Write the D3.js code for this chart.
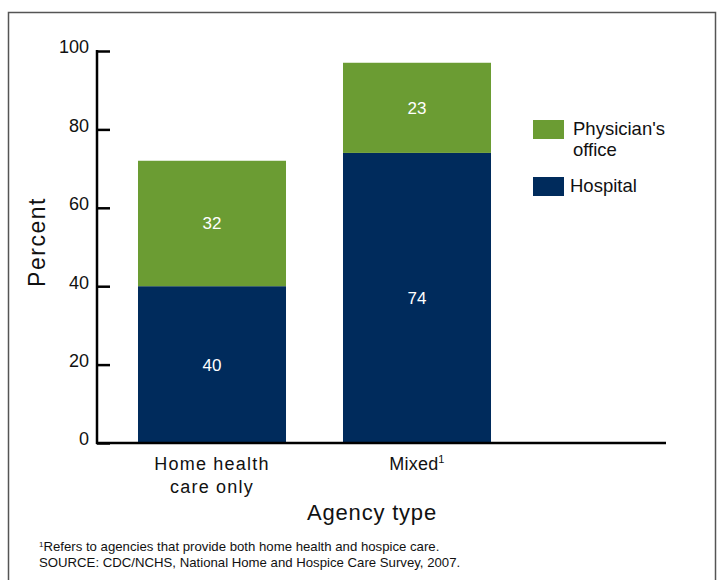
<!DOCTYPE html>
<html>
<head>
<meta charset="utf-8">
<script src="https://cdn.jsdelivr.net/npm/d3@7"></script>
<style>
  body { margin: 0; background: #fff; }
  text { font-family: Arial, "Liberation Sans", sans-serif; }
</style>
</head>
<body>
<div id="chart"></div>
<script>
// data
let categories = ['Home health care only', 'Mixed'];
let hospital = [40, 74];
let physician = [32, 23];
let yTicks = [0, 20, 40, 60, 80, 100];

let width = 718;
let height = 580;
let green = '#6b9c33';
let navy = '#002b5c';

let svg = d3.select('#chart')
    .append('svg')
    .attr('width', width)
    .attr('height', height);

// frame
svg.append('rect')
    .attr('x', 8.5).attr('y', 12.5)
    .attr('width', 707).attr('height', 600)
    .attr('fill', 'none')
    .attr('stroke', '#555')
    .attr('stroke-width', 1.5);

let x = d3.scaleBand()
    .domain(categories)
    .range([109.5, 519.5])
    .paddingInner(0.278)
    .paddingOuter(0.139);

let y = d3.scaleLinear()
    .domain([0, 100])
    .range([443, 51]);

let rows = categories.map((c, i) => ({ cat: c, hospital: hospital[i], physician: physician[i] }));
let stack = d3.stack().keys(['hospital', 'physician'])(rows);
let color = { hospital: navy, physician: green };

let layers = svg.selectAll('.layer')
    .data(stack)
    .enter().append('g')
    .attr('class', 'layer')
    .attr('fill', d => color[d.key]);

layers.selectAll('rect')
    .data(d => d)
    .enter().append('rect')
    .attr('x', d => x(d.data.cat))
    .attr('y', d => y(d[1]))
    .attr('width', x.bandwidth())
    .attr('height', d => y(d[0]) - y(d[1]));

// value labels
layers.selectAll('text')
    .data(d => d.map(v => Object.assign(v, { key: d.key })))
    .enter().append('text')
    .attr('x', d => x(d.data.cat) + x.bandwidth() / 2)
    .attr('y', d => (y(d[0]) + y(d[1])) / 2 + 6)
    .attr('text-anchor', 'middle')
    .attr('fill', 'white')
    .style('font-size', '17px')
    .text(d => d.data[d.key]);

// y axis
let yAxis = svg.append('g')
    .attr('transform', 'translate(97,0)')
    .call(d3.axisRight(y).tickValues(yTicks).tickSize(13).tickFormat(d3.format('d')));
yAxis.select('.domain').remove();
yAxis.selectAll('.tick line').attr('stroke', '#000').attr('stroke-width', 2.5);
yAxis.selectAll('.tick text')
    .attr('x', -8)
    .attr('dy', '0.1em')
    .attr('text-anchor', 'end')
    .style('font-size', '18px')
    .attr('fill', '#111');

svg.append('line')
    .attr('x1', 97).attr('x2', 97)
    .attr('y1', 50).attr('y2', 444)
    .attr('stroke', '#000').attr('stroke-width', 2.5);
svg.append('line')
    .attr('x1', 96).attr('x2', 666)
    .attr('y1', 443).attr('y2', 443)
    .attr('stroke', '#000').attr('stroke-width', 2.5);

// category labels
let catLabels = [['Home health', 'care only'], ['Mixed']];
categories.forEach((c, i) => {
    let t = svg.append('text')
        .attr('x', x(c) + x.bandwidth() / 2)
        .attr('y', 470)
        .attr('text-anchor', 'middle')
        .style('font-size', '18px')
        .style('letter-spacing', i == 0 ? '1.2px' : '0.2px')
        .attr('fill', '#111');
    catLabels[i].forEach((line, j) => {
        t.append('tspan')
            .attr('x', x(c) + x.bandwidth() / 2)
            .attr('dy', j == 0 ? 0 : 23)
            .text(line);
    });
    if (c == 'Mixed') {
        t.append('tspan').attr('dy', -7).style('font-size', '11px').text('1');
    }
});

svg.append('text')
    .attr('x', 372).attr('y', 520)
    .attr('text-anchor', 'middle')
    .style('font-size', '22px')
    .style('letter-spacing', '0.8px')
    .attr('fill', '#111')
    .text('Agency type');

svg.append('text')
    .attr('transform', 'translate(45,242) rotate(-90)')
    .attr('text-anchor', 'middle')
    .style('font-size', '23px')
    .style('letter-spacing', '1.5px')
    .attr('fill', '#111')
    .text('Percent');

// legend
let legend = [
    { label: ["Physician's", 'office'], color: green, y: 120, tx: 573 },
    { label: ['Hospital'], color: navy, y: 177, tx: 570 }
];
legend.forEach(l => {
    svg.append('rect')
        .attr('x', 533).attr('y', l.y)
        .attr('width', 31).attr('height', 19)
        .attr('fill', l.color);
    let t = svg.append('text')
        .attr('x', l.tx).attr('y', l.y + 15)
        .style('font-size', '18.5px')
        .attr('fill', '#111');
    l.label.forEach((line, j) => {
        t.append('tspan').attr('x', l.tx).attr('dy', j == 0 ? 0 : 21).text(line);
    });
});

// footnote
let fn = svg.append('text')
    .attr('x', 39).attr('y', 551)
    .style('font-size', '13.2px')
    .attr('fill', '#111');
fn.append('tspan').attr('dy', -4).style('font-size', '8px').text('1');
fn.append('tspan').attr('dy', 4).text('Refers to agencies that provide both home health and hospice care.');
svg.append('text')
    .attr('x', 39).attr('y', 567)
    .style('font-size', '13.2px')
    .attr('fill', '#111')
    .text('SOURCE: CDC/NCHS, National Home and Hospice Care Survey, 2007.');
</script>
</body>
</html>
